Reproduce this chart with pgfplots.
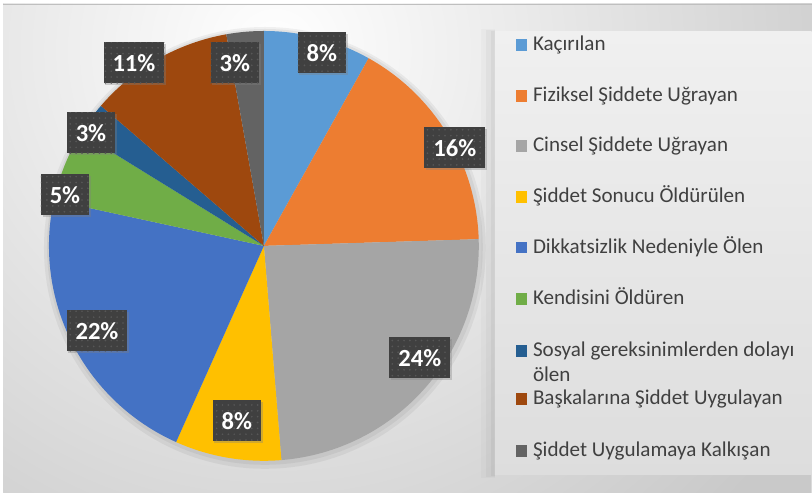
\documentclass[border=0pt]{standalone}
\usepackage{pgfplots}
\pgfplotsset{compat=1.18}
\usepackage{pgfplotstable}
\usepackage{fontspec}
\setmainfont{Carlito}
\usetikzlibrary{shadows,patterns.meta}

\definecolor{c0}{HTML}{5B9BD5}
\definecolor{c1}{HTML}{ED7D31}
\definecolor{c2}{HTML}{A5A5A5}
\definecolor{c3}{HTML}{FFC000}
\definecolor{c4}{HTML}{4472C4}
\definecolor{c5}{HTML}{70AD47}
\definecolor{c6}{HTML}{255E91}
\definecolor{c7}{HTML}{9E480E}
\definecolor{c8}{HTML}{636363}
\definecolor{lblbg}{HTML}{404040}
\definecolor{lbldot}{HTML}{575757}
\definecolor{legtext}{HTML}{404040}
\definecolor{bgouter}{HTML}{C9C9C9}
\definecolor{bgline}{HTML}{BFBFBF}
\definecolor{legtop}{HTML}{F0F0F0}
\definecolor{legbot}{HTML}{DDDDDD}

\tikzdeclarepattern{
  name=lbldots,
  type=uncolored,
  bottom left={(-1pt,-1pt)},
  top right={(1pt,1pt)},
  tile size={(5pt,5pt)},
  code={\fill (0pt,0pt) circle[radius=0.8pt];}
}

\tikzset{
  lbl/.style={fill=lblbg, text=white, font=\bfseries\fontsize{21}{24}\selectfont,
    minimum height=1.23cm, inner xsep=0.27cm, inner ysep=0pt,
    drop shadow={opacity=0.35, shadow xshift=1.5pt, shadow yshift=-1.5pt},
    postaction={pattern=lbldots, pattern color=lbldot}},
  legtxt/.style={anchor=base west, inner sep=0pt, text=legtext,
    font=\fontsize{18}{21.3}\selectfont}
}

% value = slice share, pct = printed label, lx/ly = label centre (px), ty = legend baseline (px)
\pgfplotstableread[col sep=comma]{
value,pct,lx,ly,ty,name
8.1,8,322,53,51,Kaçırılan
16.4,16,455,148,101.7,Fiziksel Şiddete Uğrayan
24.2,24,420,358,151.7,Cinsel Şiddete Uğrayan
8.0,8,237,421,202.7,Şiddet Sonucu Öldürülen
21.7,22,97,331,253.3,Dikkatsizlik Nedeniyle Ölen
5.4,5,65,195,305,Kendisini Öldüren
2.5,3,91,133,356.7,{Sosyal gereksinimlerden dolayı\\ölen}
10.9,11,134,63,405,Başkalarına Şiddet Uygulayan
2.8,3,235,63,456.7,Şiddet Uygulamaya Kalkışan
}\piedata

\begin{document}
\begin{tikzpicture}
% background, in px units (y up)
\begin{scope}[x=0.03cm,y=0.03cm]
  \fill[white] (0,0) rectangle (812,493);
  \begin{scope}
    \clip (3.5,0) rectangle (812,489);
    \fill[bgouter] (0,0) rectangle (812,493);
    \shade[inner color=white, outer color=bgouter] (275,443) circle[radius=640];
  \end{scope}
  \draw[bgline, line width=0.6pt] (3.5,489) -- (812,489);
  % legend panel
  \fill[black, opacity=0.02] (481,15) rectangle (495,464);
  \fill[black, opacity=0.03] (486,16) rectangle (495,463);
  \fill[black, opacity=0.04] (491,17) rectangle (495,462);
  \shade[top color=legtop, bottom color=legbot] (495,18) rectangle (812,461);
  % soft pie shadow
  \fill[black, opacity=0.05] (265,245) circle[radius=221];
  \fill[black, opacity=0.05] (265,246) circle[radius=218];
\end{scope}

\begin{axis}[x=0.03cm, y=0.03cm, xmin=0, xmax=812, ymin=0, ymax=493,
  enlargelimits=false, hide axis, clip=false, scale only axis]
\pgfplotstablegetrowsof{\piedata}
\pgfmathtruncatemacro{\lastrow}{\pgfplotsretval-1}
\def\cum{0}
\pgfplotsforeachungrouped \i in {0,...,\lastrow}{%
  \pgfplotstablegetelem{\i}{value}\of{\piedata}\let\val\pgfplotsretval
  \pgfmathsetmacro{\sa}{90-3.6*\cum}
  \pgfmathsetmacro{\ea}{90-3.6*(\cum+\val)}
  \pgfmathsetmacro{\sx}{264+215*cos(\sa)}
  \pgfmathsetmacro{\sy}{247+215*sin(\sa)}
  \edef\doslice{\noexpand\fill[c\i] (axis cs:264,247) -- (axis cs:\sx,\sy)
    arc[start angle=\sa, end angle=\ea, radius=6.45cm] -- cycle;}
  \doslice
  \pgfmathsetmacro{\cum}{\cum+\val}
}
\pgfplotsforeachungrouped \i in {0,...,\lastrow}{%
  \pgfplotstablegetelem{\i}{pct}\of{\piedata}\let\pct\pgfplotsretval
  \pgfplotstablegetelem{\i}{lx}\of{\piedata}\let\lx\pgfplotsretval
  \pgfplotstablegetelem{\i}{ly}\of{\piedata}\let\lyraw\pgfplotsretval
  \pgfplotstablegetelem{\i}{ty}\of{\piedata}\let\tyraw\pgfplotsretval
  \pgfplotstablegetelem{\i}{name}\of{\piedata}\let\nm\pgfplotsretval
  \pgfmathsetmacro{\ly}{493-\lyraw}
  \pgfmathsetmacro{\ty}{493-\tyraw}
  \pgfmathsetmacro{\tyt}{\ty+11.5}
  \edef\dolabel{\noexpand\node[lbl] at (axis cs:\lx,\ly) {\pct\noexpand\%};
    \noexpand\fill[c\i] (axis cs:516,\ty) rectangle (axis cs:527.5,\tyt);
    \noexpand\node[legtxt] at (axis cs:533,\ty)
      {\noexpand\begin{tabular}[t]{@{}l@{}}\unexpanded\expandafter{\nm}\noexpand\end{tabular}};}
  \dolabel
}
\end{axis}
\end{tikzpicture}
\end{document}
